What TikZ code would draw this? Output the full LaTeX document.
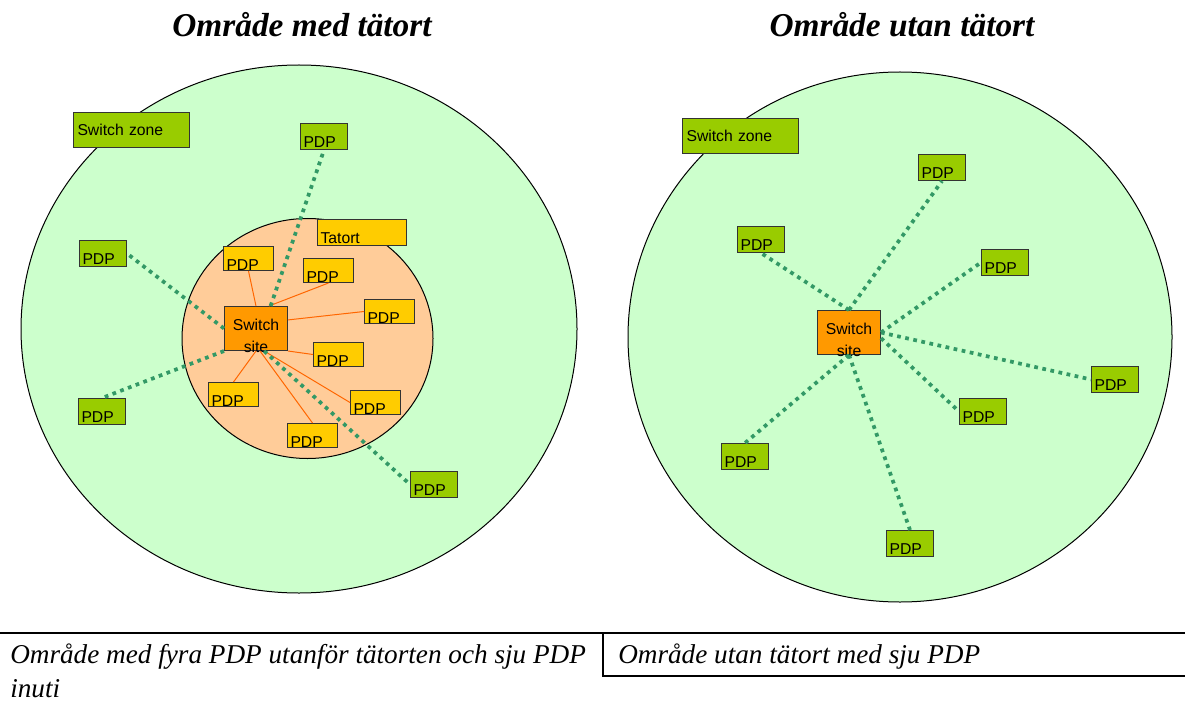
\documentclass[tikz,border=0pt]{standalone}
\usepackage{fontspec}
\setmainfont{Liberation Serif}
\newfontfamily\arialfont{Liberation Sans}
\usetikzlibrary{positioning}

\definecolor{zonefill}{HTML}{CCFFCC}
\definecolor{townfill}{HTML}{FFCC99}
\definecolor{pdpgreen}{HTML}{99CC00}
\definecolor{pdpyellow}{HTML}{FFCC00}
\definecolor{siteorange}{HTML}{FF9900}
\definecolor{linkgreen}{HTML}{339966}
\definecolor{linkorange}{HTML}{FF6600}

\tikzset{
    box/.style={draw=black!80, line width=0.75pt, anchor=north west, align=left, text depth=0pt,
        inner xsep=2.25pt, font=\arialfont\fontsize{11.8}{13}\selectfont},
    pdpout/.style={box, fill=pdpgreen, text width=30.75pt, text height=16.5pt, inner ysep=1.5pt},
    pdpin/.style={box, fill=pdpyellow, text width=33pt, text height=17.6pt, inner ysep=0.2pt},
    townbox/.style={box, fill=pdpyellow, text width=62.25pt, text height=16.5pt, inner ysep=1.5pt},
    zonebox/.style={draw=black!80, line width=0.75pt, fill=pdpgreen, anchor=north west, align=left,
        text width=81pt, minimum height=26.25pt, inner xsep=3pt, inner ysep=0pt,
        font=\arialfont\fontsize{11.8}{13}\selectfont},
    sitebox/.style={draw=black!80, line width=0.75pt, fill=siteorange, anchor=north west,
        minimum width=47.25pt, minimum height=33pt, inner sep=0pt},
    sitetext/.style={align=center, inner sep=0pt, font=\arialfont\fontsize{11.8}{16.5}\selectfont},
    dotlink/.style={draw=linkgreen, line width=2.8pt, dash pattern=on 2.8pt off 3.4pt},
    wire/.style={draw=linkorange, line width=0.75pt},
    title/.style={anchor=base, font=\bfseries\itshape\fontsize{25}{30}\selectfont},
    caption/.style={anchor=base west, inner sep=0pt, font=\itshape\fontsize{20.4}{24}\selectfont}
}

\begin{document}
\begin{tikzpicture}[x=0.75pt, y=-0.75pt]
    \useasboundingbox (0, 0) rectangle (1185, 706);

    % areas
    \draw[fill=zonefill, line width=0.75pt] (299, 329) ellipse [x radius=278, y radius=264];
    \draw[fill=townfill, line width=0.75pt] (307.5, 338.5) ellipse [x radius=125.5, y radius=120];
    \draw[fill=zonefill, line width=0.75pt] (900, 337) ellipse [x radius=272, y radius=265];

    \node[title] (title1) at (302, 37) {Område med tätort};
    \node[title] (title2) at (902, 37) {Område utan tätort};

    % left area
    \node[zonebox] (zone1) at (73, 112) {Switch zone};
    \node[townbox] (town) at (317, 219) {Tatort};
    \node[sitebox] (site1) at (224, 306) {};
    \node[sitetext, below=9.5pt of site1.north] (site1txt) {Switch\\site};

    \node[pdpout] (o1) at (300, 123) {PDP};
    \node[pdpout] (o2) at (79, 240) {PDP};
    \node[pdpout] (o3) at (78, 398) {PDP};
    \node[pdpout] (o4) at (410, 471) {PDP};

    \node[pdpin] (i1) at (223, 246) {PDP};
    \node[pdpin] (i2) at (303, 258) {PDP};
    \node[pdpin] (i3) at (364, 299) {PDP};
    \node[pdpin] (i4) at (313, 342) {PDP};
    \node[pdpin] (i5) at (208, 382) {PDP};
    \node[pdpin] (i6) at (350, 390) {PDP};
    \node[pdpin] (i7) at (287, 423) {PDP};

    \foreach \a/\b in {north/i1.south, 60/i2.south, 15/i3.west, south east/i4.west,
                       south/i5.north, -70/i6.west, -80/i7.north} {
        \draw[wire] (site1.\a) -- (\b);
    }

    \draw[dotlink] (site1.57) -- (o1.south);
    \draw[dotlink] (site1.west) -- (o2.east);
    \draw[dotlink] (site1.south west) -- (o3.north);
    \draw[dotlink] (site1.-70) -- (o4.west);

    % right area
    \node[zonebox] (zone2) at (682, 118) {Switch zone};
    \node[sitebox] (site2) at (817, 310) {};
    \node[sitetext, below=9.5pt of site2.north] (site2txt) {Switch\\site};

    \node[pdpout] (r1) at (918, 154) {PDP};
    \node[pdpout] (r2) at (737, 226) {PDP};
    \node[pdpout] (r3) at (981, 249) {PDP};
    \node[pdpout] (r4) at (1091, 366) {PDP};
    \node[pdpout] (r5) at (959, 398) {PDP};
    \node[pdpout] (r6) at (721, 443) {PDP};
    \node[pdpout] (r7) at (886, 530) {PDP};

    \foreach \a/\b in {north/r1.south, north/r2.south, east/r3.west, east/r4.west,
                       -10/r5.west, south/r6.north, south/r7.north} {
        \draw[dotlink] (site2.\a) -- (\b);
    }

    % captions
    \draw[line width=1.5pt] (0, 633) -- (1185, 633);
    \draw[line width=1.5pt] (603, 633) -- (603, 676) -- (1185, 676);
    \node[caption] (cap1) at (10, 663) {Område med fyra PDP utanför tätorten och sju PDP};
    \node[caption] (cap1b) at (10, 697) {inuti};
    \node[caption] (cap2) at (618, 663) {Område utan tätort med sju PDP};
\end{tikzpicture}
\end{document}
